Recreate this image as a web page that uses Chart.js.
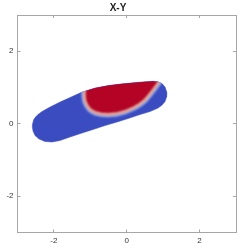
<!DOCTYPE html>
<html>
<head>
<meta charset="utf-8">
<script src="https://cdn.jsdelivr.net/npm/chart.js@4/dist/chart.umd.min.js"></script>
<style>
body{margin:0;background:#fff}
</style>
</head>
<body>
<canvas id="chart" width="250" height="250"></canvas>
<script>
// outline of the whole body (blue)
const outerX = [-2.593,-2.560,-2.519,-2.437,-2.327,-2.107,-1.832,-1.558,-1.228,-0.871,-0.514,-0.184,0.173,0.503,0.723,0.860,0.970,1.052,1.099,1.093,1.052,0.970,0.860,0.640,0.365,0.036,-0.266,-0.596,-0.926,-1.228,-1.558,-1.832,-2.052,-2.245,-2.409,-2.519,-2.574,-2.593,-2.593]
const outerY = [-0.036,0.102,0.171,0.253,0.336,0.460,0.598,0.722,0.873,0.983,1.052,1.094,1.129,1.160,1.171,1.160,1.107,1.011,0.873,0.736,0.612,0.515,0.433,0.336,0.253,0.143,0.047,-0.050,-0.160,-0.256,-0.366,-0.463,-0.504,-0.490,-0.421,-0.325,-0.201,-0.091,-0.036]

// hot region (red), goes past the top edge, clipped to the body
const hotX = [-1.159,-1.159,-1.173,-1.146,-1.091,-1.008,-0.871,-0.706,-0.514,-0.294,-0.047,0.201,0.365,0.503,0.640,0.777,0.874,0.942,-1.159]
const hotY = [1.424,0.928,0.763,0.625,0.501,0.391,0.309,0.267,0.253,0.273,0.336,0.446,0.543,0.653,0.818,0.997,1.135,1.424,1.424]

const xTicks = [-2,0,2]
const yTicks = [-2,0,2]

const toPts = (xs,ys)=>xs.map((x,i)=>({x:x,y:ys[i]}))

const BLUE = "#3b4cc0"
const RED = "#b40426"
const FRAME = "#a6a6a6"

// clip the hot layers to the body and soften them
const layers = {
id:"layers",
afterDatasetDraw(chart,args){
let ctx=chart.ctx
if(args.index===0){
let pts=chart.getDatasetMeta(0).data
ctx.save()
ctx.beginPath()
pts.forEach((p,i)=> i ? ctx.lineTo(p.x,p.y) : ctx.moveTo(p.x,p.y))
ctx.closePath()
ctx.clip()
ctx.filter="blur(1.3px)"
}
if(args.index===2){
ctx.restore()
}
}
}

const setTicks = vals => axis => { axis.ticks = vals.map(v=>({value:v})) }

const font = {family:"'Liberation Sans', Arial, sans-serif", size:8}

new Chart(document.getElementById("chart"),{
type:"scatter",
data:{
datasets:[
{
data:toPts(outerX,outerY),
showLine:true,
fill:"shape",
backgroundColor:BLUE,
borderColor:BLUE,
borderWidth:0.5,
pointRadius:0,
order:3
},
{
data:toPts(hotX,hotY),
showLine:true,
fill:false,
borderColor:"#8eaef5",
borderWidth:5.5,
borderJoinStyle:"round",
pointRadius:0,
order:2
},
{
data:toPts(hotX,hotY),
showLine:true,
fill:"shape",
backgroundColor:RED,
borderColor:"#efb59c",
borderWidth:2.5,
borderJoinStyle:"round",
pointRadius:0,
order:1
}
]
},
options:{
responsive:false,
animation:false,
layout:{padding:{left:0,right:14,top:0,bottom:0}},
plugins:{
legend:{display:false},
tooltip:{enabled:false},
title:{
display:true,
text:"X-Y",
color:"#222",
font:{family:"'Liberation Sans', Arial, sans-serif", size:10, weight:"bold"},
padding:{top:2,bottom:1}
}
},
scales:{
x:{
type:"linear",min:-3,max:3,position:"bottom",
afterBuildTicks:setTicks(xTicks),
afterFit:s=>{s.height=17.5},
grid:{drawOnChartArea:false,tickLength:-3,color:FRAME},
border:{color:FRAME},
ticks:{color:"#333",font:font,padding:6,maxRotation:0}
},
y:{
type:"linear",min:-3,max:3,position:"left",
afterBuildTicks:setTicks(yTicks),
afterFit:s=>{s.width=17.5},
grid:{drawOnChartArea:false,tickLength:-3,color:FRAME},
border:{color:FRAME},
ticks:{color:"#333",font:font,padding:7}
},
x2:{
type:"linear",min:-3,max:3,position:"top",display:true,
afterBuildTicks:setTicks(xTicks),
afterFit:s=>{s.height=0},
grid:{drawOnChartArea:false,tickLength:-3,color:FRAME},
border:{color:FRAME},
ticks:{display:false}
},
y2:{
type:"linear",min:-3,max:3,position:"right",display:true,
afterBuildTicks:setTicks(yTicks),
afterFit:s=>{s.width=0},
grid:{drawOnChartArea:false,tickLength:-3,color:FRAME},
border:{color:FRAME},
ticks:{display:false}
}
}
},
plugins:[layers]
})
</script>
</body>
</html>
